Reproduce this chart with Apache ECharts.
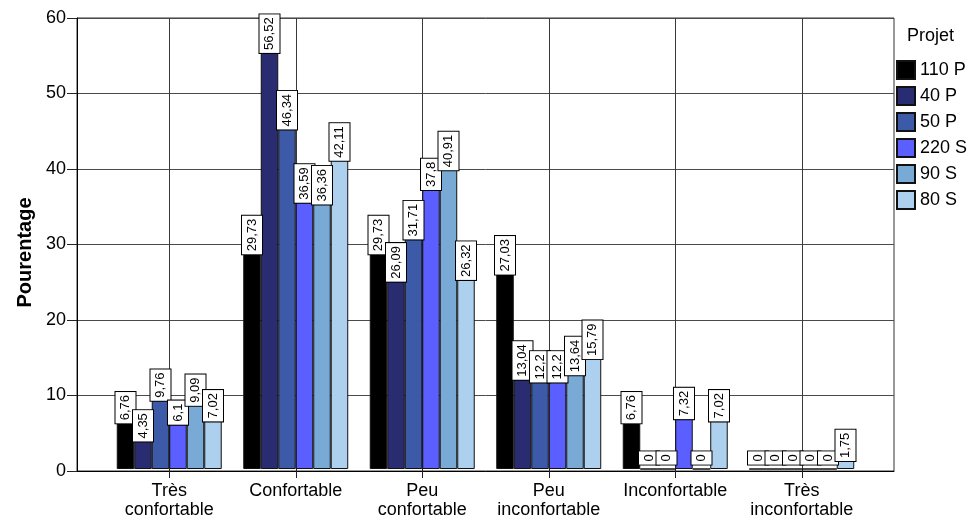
<!DOCTYPE html>
<html>
<head>
<meta charset="utf-8">
<script src="https://cdn.jsdelivr.net/npm/echarts@6/dist/echarts.min.js"></script>
<style>
  html, body { margin: 0; padding: 0; background: #fff; }
  #chart { width: 970px; height: 520px; }
</style>
</head>
<body>
<div id="chart"></div>
<script>
// Comfort rating categories (x axis)
const categories = ['Très\nconfortable', 'Confortable', 'Peu\nconfortable', 'Peu\ninconfortable', 'Inconfortable', 'Très\ninconfortable'];

// Percentage per project
const p110 = [6.76, 29.73, 29.73, 27.03, 6.76, 0];
const p40  = [4.35, 56.52, 26.09, 13.04, 0, 0];
const p50  = [9.76, 46.34, 31.71, 12.2, 0, 0];
const s220 = [6.1, 36.59, 37.8, 12.2, 7.32, 0];
const s90  = [9.09, 36.36, 40.91, 13.64, 0, 0];
const s80  = [7.02, 42.11, 26.32, 15.79, 7.02, 1.75];

const seriesNames = ['110 P', '40 P', '50 P', '220 S', '90 S', '80 S'];
const seriesData = [p110, p40, p50, s220, s90, s80];
const seriesColors = ['#000000', '#2a2c72', '#3c5aa8', '#5b5fff', '#79a9d5', '#acd0ee'];

const yTicks = { min: 0, max: 60, interval: 10 };

const FONT = '"Liberation Sans", Arial, sans-serif';

const chart = echarts.init(document.getElementById('chart'), null, { renderer: 'canvas' });

const series = seriesNames.map((name, i) => ({
  name: name,
  type: 'bar',
  xAxisIndex: 1,
  yAxisIndex: 1,
  data: seriesData[i],
  barGap: '0%',
  barCategoryGap: '17%',
  itemStyle: { color: seriesColors[i], borderColor: '#111', borderWidth: 1 },
  label: {
    show: true,
    position: 'top',
    distance: 10.5,
    rotate: 90,
    align: 'center',
    verticalAlign: 'middle',
    formatter: p => String(p.value).replace('.', ','),
    fontFamily: FONT,
    fontSize: 13,
    lineHeight: 13,
    color: '#000',
    backgroundColor: '#fff',
    borderColor: '#000',
    borderWidth: 1,
    padding: [4, 3, 3, 3]
  },
  emphasis: { disabled: true },
  animation: false
}));

chart.setOption({
  animation: false,
  textStyle: { fontFamily: FONT },
  title: {
    text: 'Projet',
    left: 907,
    top: 27,
    padding: 0,
    textStyle: { fontFamily: FONT, fontSize: 18, fontWeight: 'normal', color: '#000' }
  },
  legend: {
    orient: 'vertical',
    left: 896,
    top: 60,
    padding: 0,
    itemWidth: 18,
    itemHeight: 18,
    itemGap: 6,
    icon: 'rect',
    data: seriesNames,
    textStyle: { fontFamily: FONT, fontSize: 18, color: '#000' },
    selectedMode: false
  },
  grid: [
    // outer plot frame, y scale and horizontal grid
    { left: 77, top: 18, width: 817, height: 453, show: true, borderColor: '#333', borderWidth: 1, containLabel: false },
    // inner band area for the bar groups
    { left: 106, top: 18, width: 759, height: 453, containLabel: false }
  ],
  xAxis: [
    {
      gridIndex: 0, type: 'value', min: 0, max: 1,
      axisLine: { show: true, onZero: false, lineStyle: { color: '#000', width: 1 } },
      axisTick: { show: false }, axisLabel: { show: false }, splitLine: { show: false }
    },
    {
      gridIndex: 1, type: 'category', data: categories,
      axisLine: { show: false },
      axisTick: { show: true, alignWithLabel: true, length: 9, lineStyle: { color: '#222' } },
      axisLabel: { fontFamily: FONT, fontSize: 18, color: '#000', lineHeight: 19, margin: 13, interval: 0 },
      splitLine: { show: true, alignWithLabel: true, lineStyle: { color: '#3a3a3a', width: 1 } }
    }
  ],
  yAxis: [
    {
      gridIndex: 0, type: 'value', min: yTicks.min, max: yTicks.max, interval: yTicks.interval,
      name: 'Pourentage',
      nameLocation: 'middle',
      nameGap: 38,
      nameTextStyle: { fontFamily: FONT, fontSize: 20, fontWeight: 'bold', color: '#000', padding: [0, 16, 0, 0] },
      axisLine: { show: true, lineStyle: { color: '#000', width: 1 } },
      axisTick: { show: true, length: 10, lineStyle: { color: '#222' } },
      axisLabel: { fontFamily: FONT, fontSize: 18, color: '#000', margin: 11 },
      splitLine: { show: true, lineStyle: { color: '#4a4a4a', width: 1 } }
    },
    {
      gridIndex: 1, type: 'value', min: yTicks.min, max: yTicks.max, interval: yTicks.interval,
      show: false, splitLine: { show: false }
    }
  ],
  series: series
});
</script>
</body>
</html>
